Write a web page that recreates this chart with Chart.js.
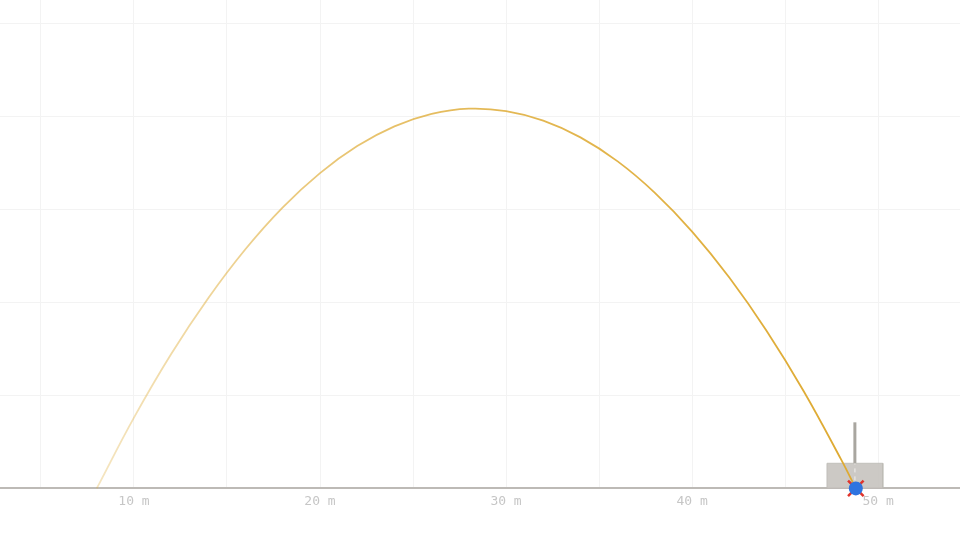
<!DOCTYPE html>
<html>
<head>
<meta charset="utf-8">
<script src="https://cdn.jsdelivr.net/npm/chart.js@4/dist/chart.umd.min.js"></script>
<style>
  html, body { margin: 0; padding: 0; background: #fff; }
  #wrap { width: 960px; height: 540px; }
</style>
</head>
<body>
<div id="wrap"><canvas id="shot" width="960" height="540"></canvas></div>
<script>
// ---- flight path (metres) ----
const flightX = [8, 10, 12, 14, 16, 18, 20, 22, 24, 26, 28, 30, 32, 34, 36, 38, 40, 42, 44, 46, 48, 48.8];
const flightY = [0, 3.80, 7.22, 10.23, 12.86, 15.10, 16.94, 18.39, 19.45, 20.12, 20.40, 20.27, 19.76, 18.86, 17.57, 15.88, 13.80, 11.33, 8.47, 5.22, 1.57, 0];

// target block and pole
const boxX = [47.25, 47.25, 50.25, 50.25];
const boxY = [0, 1.35, 1.35, 0];
const poleX = [48.75, 48.75];
const poleY = [1.35, 3.55];
const dashX = [48.75, 48.75];
const dashY = [0, 1.35];

// landing spot
const landX = 48.8;
const landY = 0;

const xMin = 2.8, xMax = 54.4;
const yMin = 0, yMax = 26.24;

const pts = (xs, ys) => xs.map((x, i) => ({ x: x, y: ys[i] }));

// path fades in from the launch point
function pathColor(ctx) {
    const chart = ctx.chart;
    if (!chart.chartArea) return '#deaa32';
    const sx = chart.scales.x;
    const g = chart.ctx.createLinearGradient(
        sx.getPixelForValue(flightX[0]), 0,
        sx.getPixelForValue(flightX[flightX.length - 1]), 0);
    g.addColorStop(0, 'rgba(222,170,50,0.3)');
    g.addColorStop(0.25, 'rgba(222,170,50,0.62)');
    g.addColorStop(0.5, 'rgba(222,170,50,0.82)');
    g.addColorStop(1, 'rgba(222,170,50,1)');
    return g;
}

new Chart(document.getElementById('shot'), {
    type: 'scatter',
    data: {
        datasets: [
            {
                // block
                data: pts(boxX, boxY),
                showLine: true,
                borderColor: 'rgba(190,187,182,0.9)',
                borderWidth: 1,
                backgroundColor: 'rgba(198,195,191,0.9)',
                fill: true,
                pointRadius: 0,
                tension: 0,
                order: 5
            },
            {
                // pole
                data: pts(poleX, poleY),
                showLine: true,
                borderColor: '#a9a6a0',
                borderWidth: 3,
                pointRadius: 0,
                order: 4
            },
            {
                data: pts(dashX, dashY),
                showLine: true,
                borderColor: 'rgba(232,230,227,0.9)',
                borderWidth: 1.5,
                borderDash: [4, 4],
                pointRadius: 0,
                order: 4
            },
            {
                // trajectory
                data: pts(flightX, flightY),
                showLine: true,
                borderWidth: 1.8,
                borderColor: pathColor,
                pointRadius: 0,
                tension: 0.4,
                order: 3
            },
            {
                // miss marker
                data: [{ x: landX, y: landY }],
                pointStyle: 'crossRot',
                pointRadius: 11,
                borderColor: '#e0342c',
                borderWidth: 2.5,
                order: 2
            },
            {
                // ball
                data: [{ x: landX, y: landY }],
                pointStyle: 'circle',
                pointRadius: 7,
                backgroundColor: '#2f74e0',
                borderColor: '#2f74e0',
                borderWidth: 0,
                order: 1
            }
        ]
    },
    options: {
        responsive: false,
        animation: false,
        clip: false,
        layout: { autoPadding: false, padding: { left: 0, right: 0, top: 0, bottom: 26 } },
        plugins: { legend: { display: false }, tooltip: { enabled: false } },
        scales: {
            x: {
                type: 'linear',
                min: xMin,
                max: xMax,
                grid: { color: '#f3f3f3', lineWidth: 1, drawTicks: false },
                border: { color: '#bdbab6', width: 2 },
                ticks: {
                    stepSize: 5,
                    includeBounds: false,
                    padding: 5,
                    maxRotation: 0,
                    autoSkip: false,
                    color: '#c6c6c6',
                    font: { family: "'DejaVu Sans Mono', monospace", size: 13 },
                    callback: v => (v % 10 === 0 ? v + ' m' : '')
                }
            },
            y: {
                type: 'linear',
                min: yMin,
                max: yMax,
                grid: { color: '#f3f3f3', lineWidth: 1, drawTicks: false },
                border: { display: false },
                ticks: { display: false, stepSize: 5, includeBounds: false }
            }
        }
    }
});
</script>
</body>
</html>
